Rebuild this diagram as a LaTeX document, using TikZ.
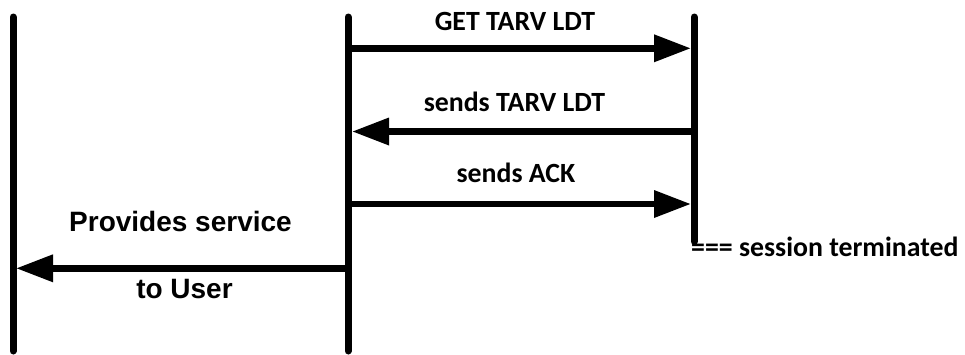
\documentclass[tikz,border=0pt]{standalone}
\usepackage{fontspec}
\usetikzlibrary{arrows.meta}
\newfontfamily\calfont{Carlito}
\newfontfamily\arialfont{Liberation Sans}
\begin{document}
\begin{tikzpicture}[x=1pt,y=-1pt,
  lifeline/.style={line width=7pt,line cap=round},
  msg/.style={line width=6.5pt,-{Triangle[length=37pt,width=26pt]}},
  lblc/.style={anchor=base,inner sep=0pt,font=\calfont\bfseries\fontsize{27.8}{33}\selectfont},
  lbla/.style={anchor=base,inner sep=0pt,font=\arialfont\bfseries\fontsize{28}{33}\selectfont}]
\useasboundingbox (0,0) rectangle (965,354);
% lifelines
\coordinate (Ltop) at (13,17);  \coordinate (Lbot) at (13,351);
\coordinate (Mtop) at (348,17); \coordinate (Mbot) at (348,351);
\coordinate (Rtop) at (694,17); \coordinate (Rbot) at (694,241.5);
\draw[lifeline] (Ltop) -- (Lbot);
\draw[lifeline] (Mtop) -- (Mbot);
\draw[lifeline] (Rtop) -- (Rbot);
% message end points
\coordinate (m1) at (348,48.3);  \coordinate (r1) at (691,48.3);
\coordinate (r2) at (694,131.5); \coordinate (m2) at (352,131.5);
\coordinate (m3) at (348,204);   \coordinate (r3) at (691,204);
\coordinate (m4) at (348,268.3); \coordinate (l4) at (16,268.3);
\draw[msg] (m1) -- (r1);
\draw[msg] (r2) -- (m2);
\draw[msg] (m3) -- (r3);
\draw[msg] (m4) -- (l4);
% labels
\node[lblc] (t1) at (515,30) {GET TARV LDT};
\node[lblc] (t2) at (514.5,111.7) {sends TARV LDT};
\node[lblc] (t3) at (516,182) {sends ACK};
\node[lblc,anchor=base west] (t4) at (691,256.7) {=== session terminated};
\node[lbla] (t5) at (180.5,231.7) {Provides service};
\node[lbla] (t6) at (184.5,298) {to User};
\end{tikzpicture}
\end{document}
